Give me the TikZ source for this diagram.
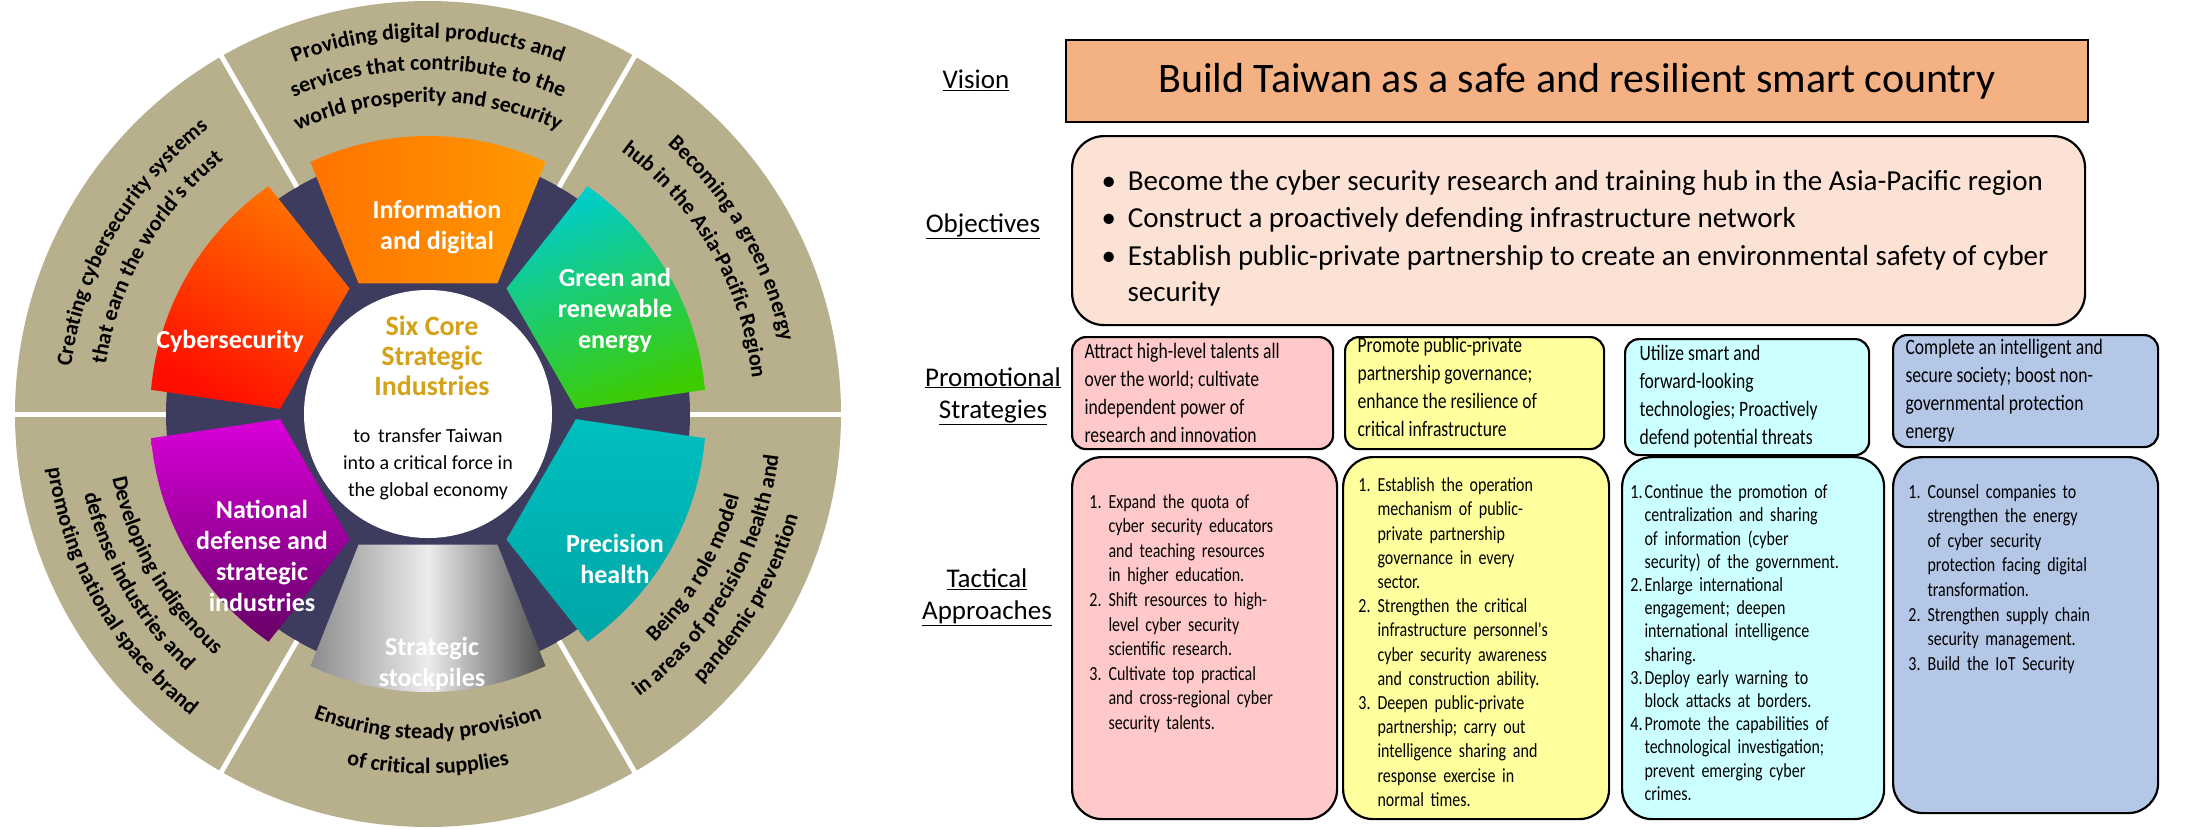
\documentclass[tikz,border=0pt]{standalone}
\usepackage{fontspec}
\setmainfont{Carlito}
\newfontfamily\narrow{Carlito}[FakeStretch=0.8]
\usepackage{enumitem}
\usetikzlibrary{decorations.text}
\definecolor{tan}{HTML}{B8AF8C}
\definecolor{navy}{HTML}{3E3C5E}
\definecolor{gold}{HTML}{D4A21A}
\definecolor{vis}{HTML}{F4B183}
\definecolor{obj}{HTML}{FBE2D5}
\definecolor{pk}{HTML}{FFC9C9}
\definecolor{yl}{HTML}{FFFF9E}
\definecolor{cy}{HTML}{CCFFFF}
\definecolor{bl}{HTML}{B4C7E7}
\newcommand\petal[2]{\path[#2] ([shift={(#1-25:278)}]C) arc[start angle=#1-25, end angle=#1+25, radius=278] -- ([shift={(#1+28:148)}]C) -- ([shift={(#1-28:148)}]C) -- cycle;}
\newcommand\cwtext[4]{\path[decorate,decoration={text along path,text align=center,text={|\bfseries\fontsize{22}{26}\selectfont|#4}}] ([shift={(#1:#3)}]C) arc[start angle=#1, end angle=#2, radius=#3];}
\tikzset{
 lbl/.style={white, font=\bfseries\fontsize{26}{31}\selectfont, align=center},
 sbox/.style={draw, line width=2.2pt, rounded corners=14pt, anchor=north west},
 tbox/.style={draw, line width=2.2pt, rounded corners=30pt, anchor=north west},
 stxt/.style={font=\narrow\fontsize{22}{28}\selectfont, align=left, anchor=west},
 ttxt/.style={font=\narrow\fontsize{20}{24.6}\selectfont, anchor=north west, text width=250pt},
 head/.style={font=\fontsize{27}{32}\selectfont, align=center},
}
\setlist[enumerate]{leftmargin=28pt, labelsep=7pt, itemsep=0pt, topsep=0pt, parsep=0pt, partopsep=0pt}
\begin{document}
\begin{tikzpicture}[x=1pt,y=1pt]
\useasboundingbox (0,0) rectangle (2185,-830);
\coordinate (C) at (428,-414);
% wheel
\fill[tan] (C) circle[radius=413];
\fill[navy] (C) circle[radius=262];
\foreach \a in {0,60,120,180,240,300}
  \draw[white, line width=5pt] ([shift={(\a:262)}]C) -- ([shift={(\a:416)}]C);
\petal{90}{top color=orange!90!red, bottom color=orange!80!yellow, shading angle=90}
\petal{30}{top color=cyan!60!teal, bottom color=green!60!lime!80!black, shading angle=20}
\petal{-30}{top color=cyan!50!teal, bottom color=teal!70!cyan}
\petal{-90}{left color=gray!90, right color=gray!60!black, middle color=white!85!gray}
\petal{-150}{top color=magenta!70!violet, bottom color=violet!80!black}
\petal{150}{top color=orange!90!red, bottom color=red!90!orange, shading angle=-30}
\fill[white] (C) circle[radius=124];
\node[lbl] (p1) at ([shift={(9,187)}]C) {Information\\and digital};
\node[lbl] (p2) at ([shift={(187,103)}]C) {Green and\\renewable\\energy};
\node[lbl] (p3) at ([shift={(187,-145)}]C) {Precision\\health};
\node[lbl] (p4) at ([shift={(4,-250)}]C) {Strategic\\stockpiles};
\node[lbl] (p5) at ([shift={(-166,-142)}]C) {National\\defense and\\strategic\\industries};
\node[lbl] (p6) at ([shift={(-198,73)}]C) {Cybersecurity};
\node[font=\bfseries\fontsize{28}{30}\selectfont, text=gold, align=center] (t1) at ([shift={(4,58)}]C) {Six Core\\Strategic\\Industries};
\node[font=\fontsize{20}{27}\selectfont, align=center] (t2) at ([shift={(0,-50)}]C) {to \,transfer Taiwan\\into a critical force in\\the global economy};
% ring texts
\cwtext{121}{59}{376}{Providing digital products and}
\cwtext{121}{59}{344}{services that contribute to the}
\cwtext{121}{59}{312}{world prosperity and security}
\cwtext{61}{-1}{360}{Becoming a green energy}
\cwtext{61}{-1}{326}{hub in the Asia-Pacific Region}
\cwtext{181}{119}{360}{Creating cybersecurity systems}
\cwtext{181}{119}{326}{that earn the world's trust}
\cwtext{-61}{1}{322}{Being a role model}
\cwtext{-61}{1}{353}{in areas of precision health and}
\cwtext{-61}{1}{384}{pandemic prevention}
\cwtext{-181}{-119}{322}{Developing indigenous}
\cwtext{-181}{-119}{353}{defense industries and}
\cwtext{-181}{-119}{384}{promoting national space brand}
\cwtext{-121}{-59}{325}{Ensuring steady provision}
\cwtext{-121}{-59}{360}{of critical supplies}
% right side
\node[head] (hv) at (976,-80) {\underline{Vision}};
\node[head] (ho) at (983,-226) {\underline{Objectives}};
\node[head] (hp) at (993,-396) {\underline{Promotional}\\\underline{Strategies}};
\node[head] (ht) at (987,-597) {\underline{Tactical}\\\underline{Approaches}};
\node[draw, line width=2.2pt, fill=vis, anchor=north west, minimum width=1022pt, minimum height=82pt, font=\fontsize{42}{44}\selectfont] (vb) at (1065,-39) {Build Taiwan as a safe and resilient smart country};
\node[draw, line width=2.2pt, fill=obj, rounded corners=32pt, anchor=north west, minimum width=1013pt, minimum height=189pt] (ob) at (1071,-135) {};
\foreach \y/\t in {183/{Become the cyber security research and training hub in the Asia-Pacific region},220/{Construct a proactively defending infrastructure network},258/{Establish public-private partnership to create an environmental safety of cyber}}
  \node[font=\fontsize{29}{37}\selectfont, anchor=west] at (1098,-\y) {\textbullet\hspace{12pt}\t};
\node[font=\fontsize{29}{37}\selectfont, anchor=west] (ob2) at (1124,-294) {security};
% strategies
\node[sbox, fill=pk, minimum width=261pt, minimum height=112pt] (s1) at (1071,-336) {};
\node[sbox, fill=yl, minimum width=259pt, minimum height=112pt] (s2) at (1344,-336) {};
\node[sbox, fill=cy, minimum width=244pt, minimum height=116pt] (s3) at (1624,-338) {};
\node[sbox, fill=bl, minimum width=265pt, minimum height=112pt] (s4) at (1892,-334) {};
\node[stxt] at ([xshift=10pt]s1.west) {Attract high-level talents all\\over the world; cultivate\\independent power of\\research and innovation};
\node[stxt] at ([xshift=10pt,yshift=6pt]s2.west) {Promote public-private\\partnership governance;\\enhance the resilience of\\critical infrastructure};
\node[stxt] at ([xshift=12pt]s3.west) {Utilize smart and\\forward-looking\\technologies; Proactively\\defend potential threats};
\node[stxt] at ([xshift=10pt]s4.west) {Complete an intelligent and\\secure society; boost non-\\governmental protection\\energy};
% tactical
\node[tbox, fill=pk, minimum width=265pt, minimum height=362pt] (a1) at (1071,-456) {};
\node[tbox, fill=yl, minimum width=266pt, minimum height=362pt] (a2) at (1342,-456) {};
\node[tbox, fill=cy, minimum width=262pt, minimum height=362pt] (a3) at (1621,-456) {};
\node[tbox, fill=bl, minimum width=265pt, minimum height=356pt] (a4) at (1892,-456) {};
\node[ttxt] at ([xshift=6pt,yshift=-24pt]a1.north west) {\begin{enumerate}
\item Expand the quota of\\cyber security educators\\and teaching resources\\in higher education.
\item Shift resources to high-\\level cyber security\\scientific research.
\item Cultivate top practical\\and cross-regional cyber\\security talents.
\end{enumerate}};
\node[ttxt, font=\narrow\fontsize{20}{24.2}\selectfont] at ([xshift=4pt,yshift=-8pt]a2.north west) {\begin{enumerate}
\item Establish the operation\\mechanism of public-\\private partnership\\governance in every\\sector.
\item Strengthen the critical\\infrastructure personnel's\\cyber security awareness\\and construction ability.
\item Deepen public-private\\partnership; carry out\\intelligence sharing and\\response exercise in\\normal times.
\end{enumerate}};
\node[ttxt, font=\narrow\fontsize{20}{23.2}\selectfont] at ([xshift=-2pt,yshift=-16pt]a3.north west) {\begin{enumerate}[leftmargin=22pt,labelsep=2pt]
\item Continue the promotion of\\centralization and sharing\\of information (cyber\\security) of the government.
\item Enlarge international\\engagement; deepen\\international intelligence\\sharing.
\item Deploy early warning to\\block attacks at borders.
\item Promote the capabilities of\\technological investigation;\\prevent emerging cyber\\crimes.
\end{enumerate}};
\node[ttxt] at ([xshift=4pt,yshift=-14pt]a4.north west) {\begin{enumerate}
\item Counsel companies to\\strengthen the energy\\of cyber security\\protection facing digital\\transformation.
\item Strengthen supply chain\\security management.
\item Build the IoT Security
\end{enumerate}};
\end{tikzpicture}
\end{document}
